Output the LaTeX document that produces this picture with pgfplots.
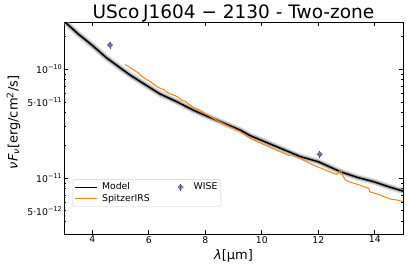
\documentclass[border=0pt]{standalone}
\usepackage{pgfplots}
\pgfplotsset{compat=1.18}
\usepackage{fontspec}
\setmainfont{DejaVu Sans}
\definecolor{morange}{HTML}{FF7F0E}
\definecolor{wpurple}{HTML}{8560C4}
\definecolor{legframe}{HTML}{CCCCCC}
\pgfplotsset{
  model legend/.style={legend image code/.code={%
    \draw[black, line width=1.2pt] (0pt,0pt) -- (22pt,0pt);
    \path[draw=none, fill=none] (25pt,0pt) circle (0.1pt);}},
  spitzer legend/.style={legend image code/.code={%
    \draw[morange, line width=1.2pt] (0pt,0pt) -- (22pt,0pt);
    \path[draw=none, fill=none] (25pt,0pt) circle (0.1pt);}},
  wise legend/.style={legend image code/.code={%
    \path[draw=none, fill=none] (0pt,-1pt) rectangle (22pt,1pt);
    \draw[black!50!wpurple, line width=0.6pt] (11pt,-3.5pt) -- (11pt,3.5pt);
    \draw plot[mark=square*, mark size=1.9pt, mark options={rotate=45, fill=wpurple, draw=black!75, line width=0.25pt}] coordinates {(11pt,0pt)};}},
}
\begin{document}
\begin{tikzpicture}
\useasboundingbox (0,0) rectangle (407pt,267pt);
\begin{axis}[
  at={(64pt,33pt)}, anchor=south west,
  scale only axis, width=339pt, height=212pt,
  xmin=3, xmax=15,
  ymode=log, ymin=3.06e-12, ymax=2.7e-10,
  xtick={4,6,8,10,12,14},
  ytick={1e-12,1e-11,1e-10,1e-9},
  yticklabel={\pgfmathtruncatemacro\e{round(\tick/ln(10))}10\textsuperscript{−\number\numexpr-\e\relax}},
  extra y ticks={5e-12,5e-11},
  extra y tick labels={5·10\textsuperscript{−12},5·10\textsuperscript{−11}},
  extra y tick style={major tick length=2.2pt},
  tick align=inside,
  major tick length=4pt, minor tick length=2.2pt,
  tick style={black, line width=0.6pt},
  axis line style={black, line width=0.8pt},
  /pgf/number format/assume math mode=true,
  ticklabel style={font=\fontsize{9.3}{10}\selectfont},
  yticklabel style={inner sep=1.5pt},
  xticklabel style={inner sep=2pt},
  title={USco\hspace{0.2em}J1604 − 2130 - Two-zone},
  title style={at={(axis description cs:0.5,1)}, anchor=base, yshift=-2pt, font=\fontsize{18.5}{20}\selectfont},
  xlabel={\itshape λ\upshape[µm]},
  every axis x label/.style={at={(axis description cs:0.5,-0.118)}, anchor=base, font=\fontsize{13}{14}\selectfont},
  ylabel={\itshape νF\textsubscript{\itshape ν}\upshape[erg/cm\textsuperscript{2}/s]},
  every axis y label/.style={at={(axis description cs:-0.149,0.526)}, rotate=90, anchor=center, font=\fontsize{13}{14}\selectfont},
  legend columns=2,
  legend cell align=left,
  legend style={at={(axis description cs:0.0257,0.129)}, anchor=south west,
    draw=legframe, rounded corners=2pt, fill=white, fill opacity=0.8, text opacity=1,
    font=\fontsize{9.3}{9.3}\selectfont, inner sep=1.5pt, row sep=-1pt,
    /tikz/every even column/.append style={column sep=18pt}},
]
% Model: blurred envelope from many samples
\addplot[gray!70, opacity=0.3, line width=6.5pt, forget plot] coordinates {
(3.0,2.75e-10) (3.5,2.1e-10) (4.0,1.65e-10) (4.5,1.27e-10) (5.0,1.02e-10) (5.34,0.88e-10)
(6.0,0.685e-10) (6.4,0.59e-10) (7.0,0.50e-10) (7.57,0.42e-10) (8.0,0.375e-10) (8.53,0.329e-10)
(9.24,0.275e-10) (9.6,0.244e-10) (10.5,0.195e-10) (11.37,0.157e-10) (12.0,0.141e-10)
(12.79,0.114e-10) (13.4,0.101e-10) (13.96,0.0925e-10) (14.5,0.083e-10) (15.0,0.0758e-10)};
\addplot[gray!80!black, opacity=0.45, line width=4pt, forget plot] coordinates {
(3.0,2.75e-10) (3.5,2.1e-10) (4.0,1.65e-10) (4.5,1.27e-10) (5.0,1.02e-10) (5.34,0.88e-10)
(6.0,0.685e-10) (6.4,0.59e-10) (7.0,0.50e-10) (7.57,0.42e-10) (8.0,0.375e-10) (8.53,0.329e-10)
(9.24,0.275e-10) (9.6,0.244e-10) (10.5,0.195e-10) (11.37,0.157e-10) (12.0,0.141e-10)
(12.79,0.114e-10) (13.4,0.101e-10) (13.96,0.0925e-10) (14.5,0.083e-10) (15.0,0.0758e-10)};
\addplot[black, line width=1.5pt, forget plot] coordinates {
(3.0,2.75e-10) (3.5,2.1e-10) (4.0,1.65e-10) (4.5,1.27e-10) (5.0,1.02e-10) (5.34,0.88e-10)
(6.0,0.685e-10) (6.4,0.59e-10) (7.0,0.50e-10) (7.57,0.42e-10) (8.0,0.375e-10) (8.53,0.329e-10)
(9.24,0.275e-10) (9.6,0.244e-10) (10.5,0.195e-10) (11.37,0.157e-10) (12.0,0.141e-10)
(12.79,0.114e-10) (13.4,0.101e-10) (13.96,0.0925e-10) (14.5,0.083e-10) (15.0,0.0758e-10)};
% Spitzer IRS
\addplot[morange, line width=1pt, forget plot] coordinates {
(5.16,1.10e-10) (5.30,1.05e-10) (5.45,0.99e-10) (5.6,0.93e-10) (5.8,0.84e-10) (5.93,0.80e-10)
(6.1,0.75e-10) (6.25,0.70e-10) (6.4,0.665e-10) (6.55,0.645e-10) (6.6,0.62e-10) (6.7,0.60e-10)
(6.87,0.577e-10) (7.0,0.56e-10) (7.15,0.52e-10) (7.25,0.51e-10) (7.3,0.505e-10) (7.35,0.49e-10)
(7.57,0.445e-10) (7.8,0.42e-10) (8.0,0.39e-10) (8.28,0.353e-10) (8.5,0.33e-10) (8.75,0.305e-10)
(9.0,0.285e-10) (9.24,0.266e-10) (9.6,0.231e-10) (9.9,0.212e-10) (10.2,0.196e-10) (10.5,0.181e-10)
(10.78,0.169e-10) (10.95,0.161e-10) (11.05,0.163e-10) (11.2,0.157e-10) (11.37,0.151e-10)
(11.6,0.140e-10) (11.8,0.132e-10) (11.96,0.127e-10) (12.2,0.120e-10) (12.4,0.114e-10)
(12.55,0.110e-10) (12.65,0.108e-10) (12.72,0.113e-10) (12.79,0.118e-10) (12.85,0.107e-10)
(12.96,0.096e-10) (13.1,0.092e-10) (13.38,0.0875e-10) (13.6,0.0835e-10) (13.79,0.0803e-10)
(13.82,0.0748e-10) (14.1,0.071e-10) (14.32,0.0675e-10) (14.56,0.064e-10) (14.8,0.0627e-10)
(15.0,0.0607e-10)};
% WISE
\addplot[only marks, forget plot, mark=square*, mark size=1.9pt,
  mark options={rotate=45, fill=wpurple, draw=black!75, line width=0.25pt},
  error bars/.cd, y dir=both, y explicit,
  error bar style={black!50!wpurple, line width=0.6pt}, error mark=none]
  coordinates {(4.63,1.66e-10) +- (0,0.12e-10) (12.05,1.65e-11) +- (0,0.12e-11)};
% legend
\addlegendimage{model legend}
\addlegendentry{Model}
\addlegendimage{wise legend}
\addlegendentry{WISE}
\addlegendimage{spitzer legend}
\addlegendentry{SpitzerIRS}
\end{axis}
\end{tikzpicture}
\end{document}
